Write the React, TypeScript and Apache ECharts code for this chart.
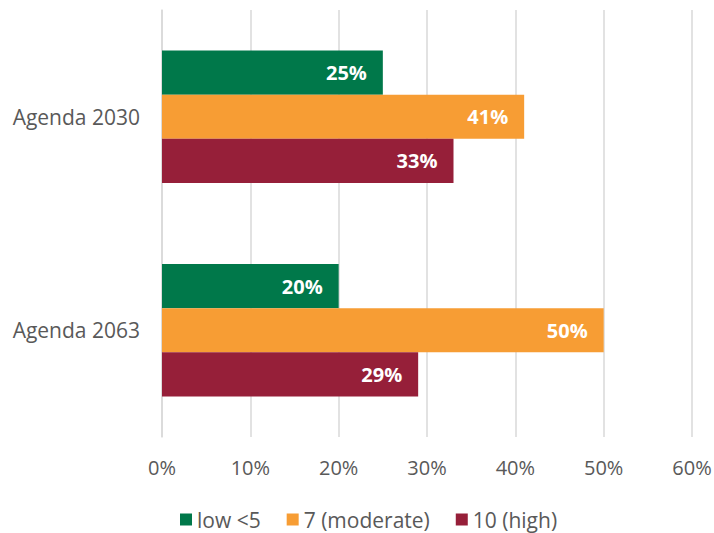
import React, { useEffect, useRef } from "react";
import * as echarts from "echarts";

const categories = ["Agenda 2030", "Agenda 2063"];
const seriesNames = ["low <5", "7 (moderate)", "10 (high)"];
const lowValues = [25, 20];
const moderateValues = [41, 50];
const highValues = [33, 29];
const colors = ["#00784A", "#F79D34", "#961F39"];

export default function App() {
  const ref = useRef<HTMLDivElement>(null);
  useEffect(() => {
    if (!ref.current) return;
    const chart = echarts.init(ref.current, null, { renderer: "svg" });
    const font = "'Open Sans', 'Noto Sans', sans-serif";
    const values = [lowValues, moderateValues, highValues];
    chart.setOption({
      animation: false,
      textStyle: { fontFamily: font },
      grid: { left: 162, right: 22, top: 10, bottom: 96, containLabel: false, outerBoundsMode: "none" },
      legend: {
        top: 504,
        left: 175,
        itemWidth: 12,
        itemHeight: 12,
        itemGap: 26,
        icon: "rect",
        textStyle: { fontSize: 21, color: "#595959", fontFamily: font },
        data: seriesNames,
      },
      xAxis: {
        type: "value",
        min: 0,
        max: 60,
        interval: 10,
        axisLabel: {
          formatter: "{value}%",
          fontSize: 20,
          color: "#595959",
          margin: 20,
          fontFamily: font,
        },
        splitLine: { show: true, lineStyle: { color: "#D9D9D9", width: 1.5 } },
        axisLine: { show: false },
        axisTick: { show: false },
      },
      yAxis: {
        type: "category",
        data: categories,
        inverse: true,
        axisLabel: { fontSize: 21, color: "#595959", margin: 22, fontFamily: font },
        axisLine: { show: true, lineStyle: { color: "#D9D9D9", width: 1.5 } },
        axisTick: { show: false },
      },
      series: seriesNames.map((name, i) => ({
        name,
        type: "bar",
        data: values[i],
        itemStyle: { color: colors[i] },
        barGap: "0%",
        barCategoryGap: "38%",
        label: {
          show: true,
          position: "insideRight",
          distance: 16,
          formatter: "{c}%",
          color: "#FFFFFF",
          fontWeight: "bold",
          fontSize: 20,
          fontFamily: font,
        },
      })),
    });
    return () => chart.dispose();
  }, []);
  return (
    <div
      ref={ref}
      style={{ position: "absolute", left: 0, top: 0, width: 714, height: 533 }}
    />
  );
}
